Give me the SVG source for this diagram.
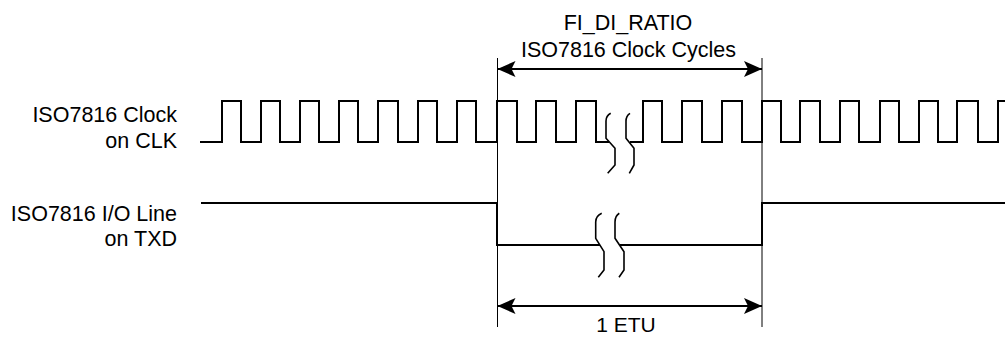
<svg xmlns="http://www.w3.org/2000/svg" width="1005" height="337" viewBox="0 0 1005 337">
<style>
text{font-family:"Liberation Sans",Arial,sans-serif;font-size:21.5px;fill:#000}
.sig{fill:none;stroke:#000;stroke-width:2}
.brk{fill:none;stroke:#000;stroke-width:1.6;stroke-linejoin:round}
.mark{fill:none;stroke:#000;stroke-width:1}
.dim{fill:none;stroke:#000;stroke-width:2}
</style>
<defs>
<marker id="ah" markerUnits="userSpaceOnUse" viewBox="0 0 18 16" refX="18" refY="8" markerWidth="18" markerHeight="16" orient="auto-start-reverse">
<path d="M0,0 L18,8 L0,16 L4,8 Z" fill="#000"/>
</marker>
</defs>
<rect width="1005" height="337" fill="#fff"/>
<g id="label-clk">
<text x="177" y="121.5" text-anchor="end">ISO7816 Clock</text>
<text x="177" y="148" text-anchor="end">on CLK</text>
</g>
<g id="label-txd">
<text x="177" y="220.5" text-anchor="end">ISO7816 I/O Line</text>
<text x="177" y="245.5" text-anchor="end">on TXD</text>
</g>
<g id="clk-signal">
<path class="sig" d="M200,142 H222 V101 H241 V142 H261 V101 H280 V142 H300 V101 H319 V142 H339 V101 H358 V142 H378 V101 H398 V142 H418 V101 H437 V142 H457 V101 H476 V142 H497 V101 H517 V142 H536 V101 H556 V142 H576 V101 H596 V142 H609"/>
<path class="sig" d="M630,142 H643 V101 H662 V142 H682 V101 H702 V142 H722 V101 H742 V142 H762 V101 H781 V142 H800 V101 H820 V142 H840 V101 H859 V142 H880 V101 H899 V142 H919 V101 H938 V142 H957 V101 H978 V142 H998 V101 H1006"/>
<path class="brk" d="M610.7,113.3 Q606,116 606,121 V138.3 L615,148.3 V165 L607.7,173.3"/>
<path class="brk" d="M630,113.3 Q626,116 626,121 V138.3 L634,148.3 V165 L629.3,173.3"/>
</g>
<g id="txd-signal">
<path class="sig" d="M201,203 H497 V245 H600"/>
<path class="sig" d="M620,245 H762 V203 H1006"/>
<path class="brk" d="M601.7,213.3 Q595.7,216 595.7,222 V238.3 L604,251.7 V270 L598.3,277.3"/>
<path class="brk" d="M619.3,213.3 Q615,216 615,222 V238.3 L624,251.7 V270 L619,277.3"/>
</g>
<g id="connectors">
<line class="mark" x1="497.5" y1="58" x2="497.5" y2="327"/>
<line class="mark" x1="762" y1="58" x2="762" y2="327"/>
<line class="dim" x1="497.5" y1="69" x2="762" y2="69" marker-start="url(#ah)" marker-end="url(#ah)"/>
<line class="dim" x1="497.5" y1="306" x2="762" y2="306" marker-start="url(#ah)" marker-end="url(#ah)"/>
</g>
<g id="label-fi-di">
<text x="628" y="30" text-anchor="middle">FI_DI_RATIO</text>
<text x="628.5" y="56.5" text-anchor="middle">ISO7816 Clock Cycles</text>
</g>
<g id="label-etu">
<text x="626" y="332" text-anchor="middle" style="font-size:21px">1 ETU</text>
</g>
</svg>
